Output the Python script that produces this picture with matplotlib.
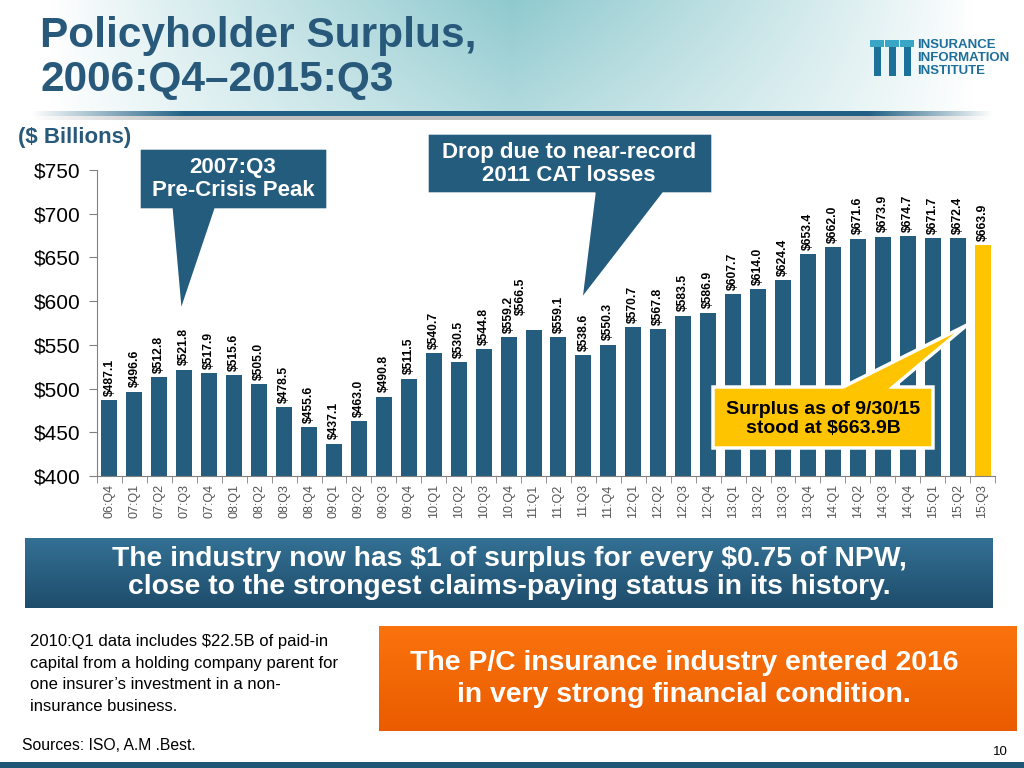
import numpy as np
import matplotlib
matplotlib.use("Agg")
import matplotlib.pyplot as plt
from matplotlib.patches import Polygon, Rectangle
from matplotlib.ticker import FixedLocator

plt.rcParams['font.family'] = ['Liberation Sans', 'DejaVu Sans']

# ── data ────────────────────────────────────────────────────────────────────
quarters = ["06:Q4", "07:Q1", "07:Q2", "07:Q3", "07:Q4", "08:Q1", "08:Q2",
            "08:Q3", "08:Q4", "09:Q1", "09:Q2", "09:Q3", "09:Q4", "10:Q1",
            "10:Q2", "10:Q3", "10:Q4", "11:Q1", "11:Q2", "11:Q3", "11:Q4",
            "12:Q1", "12:Q2", "12:Q3", "12:Q4", "13:Q1", "13:Q2", "13:Q3",
            "13:Q4", "14:Q1", "14:Q2", "14:Q3", "14:Q4", "15:Q1", "15:Q2",
            "15:Q3"]
surplus = [487.1, 496.6, 512.8, 521.8, 517.9, 515.6, 505.0, 478.5, 455.6,
           437.1, 463.0, 490.8, 511.5, 540.7, 530.5, 544.8, 559.2, 566.5,
           559.1, 538.6, 550.3, 570.7, 567.8, 583.5, 586.9, 607.7, 614.0,
           624.4, 653.4, 662.0, 671.6, 673.9, 674.7, 671.7, 672.4, 663.9]
yticks = [400, 450, 500, 550, 600, 650, 700, 750]

BLUE = "#245d7d"
YELLOW = "#ffc400"
TITLE = "#28597a"

fig = plt.figure(figsize=(10.24, 7.68), dpi=100)

# ── header / decoration layer (pixel coords) ────────────────────────────────
bg = fig.add_axes([0, 0, 1, 1], zorder=0)
bg.set_xlim(0, 1024)
bg.set_ylim(768, 0)
bg.axis("off")

xs = np.linspace(0, 1, 512)
prof = np.clip(1 - np.abs(xs - 0.5) / 0.45, 0, 1) ** 0.9
ys = np.linspace(0, 1, 60)
vprof = 1 - 0.3 * ys
inten = np.outer(vprof, prof)
teal = np.array([0.56, 0.79, 0.81])
img = 1 - inten[..., None] * (1 - teal)
bg.imshow(img, extent=(0, 1024, 112, 0), aspect="auto", zorder=0)

# underline with faded ends + shadow
lprof = np.clip(np.minimum((xs - 0.03) / 0.15, (0.97 - xs) / 0.12), 0, 1)
line_col = np.array([0.13, 0.38, 0.52])
limg = 1 - lprof[None, :, None] * (1 - line_col)
bg.imshow(limg, extent=(0, 1024, 116, 111), aspect="auto", zorder=1)
simg = 1 - (lprof * 0.25)[None, :, None] * np.ones(3)
bg.imshow(simg, extent=(0, 1024, 120, 116), aspect="auto", zorder=1)

bg.text(40, 36, "Policyholder Surplus,", fontsize=30.5,
        fontweight="bold", color=TITLE, va="center", ha="left")
bg.text(40, 80, "2006:Q4\u20132015:Q3", fontsize=30.5,
        fontweight="bold", color=TITLE, va="center", ha="left")

# logo
for i in range(3):
    x0 = 870 + i * 15
    bg.add_patch(Rectangle((x0, 40), 14, 7, color="#3aa6c6", lw=0))
    bg.add_patch(Rectangle((x0 + 4, 47), 7, 29, color="#1b7199", lw=0))
for j, word in enumerate(["INSURANCE", "INFORMATION", "INSTITUTE"]):
    bg.text(917, 45 + j * 13, word, fontsize=9.5, fontweight="bold",
            color="#1d6f9a", va="center", ha="left")

bg.text(18, 137, "(\\$ Billions)", fontsize=16, fontweight="bold",
        color=TITLE, va="center", ha="left")

# banner
bimg = np.linspace(0, 1, 50)
bcol = np.array([0.20, 0.44, 0.58])[None, :] * (1 - bimg[:, None]) \
    + np.array([0.12, 0.30, 0.42])[None, :] * bimg[:, None]
bg.imshow(bcol[:, None, :], extent=(25, 993, 608, 538), aspect="auto",
          zorder=1)
bg.text(509, 573, "The industry now has \\$1 of surplus for every \\$0.75 of NPW,\n"
        "close to the strongest claims-paying status in its history.",
        fontsize=20.3, fontweight="bold", color="white",
        ha="center", va="center", linespacing=1.1, zorder=2)

# footnote
bg.text(30, 674, "2010:Q1 data includes \\$22.5B of paid-in\n"
        "capital from a holding company parent for\n"
        "one insurer\u2019s investment in a non-\ninsurance business.",
        fontsize=12, color="black", ha="left", va="center",
        linespacing=1.55)

# orange box
oimg = np.linspace(0, 1, 50)
ocol = np.array([0.98, 0.45, 0.05])[None, :] * (1 - oimg[:, None]) \
    + np.array([0.92, 0.36, 0.0])[None, :] * oimg[:, None]
bg.imshow(ocol[:, None, :], extent=(379, 1017, 731, 626), aspect="auto",
          zorder=1)
bg.text(684, 679, "The P/C insurance industry entered 2016\n"
        "in very strong financial condition.",
        fontsize=20.4, fontweight="bold", color="white",
        ha="center", va="center", linespacing=1.35, zorder=2)

bg.text(22, 745, "Sources: ISO, A.M .Best.", fontsize=11.3,
        color="black", ha="left", va="center")
bg.text(1000, 752, "10", fontsize=9.5, color="black",
        ha="center", va="center")
bg.add_patch(Rectangle((0, 762), 1024, 6, color="#1f5877", lw=0))

# ── chart ───────────────────────────────────────────────────────────────────
ax = fig.add_axes([97 / 1024, 1 - 476 / 768, 898 / 1024, 306 / 768],
                  zorder=1)
ax.patch.set_alpha(0)
x = np.arange(len(quarters))
colors = [BLUE] * (len(quarters) - 1) + [YELLOW]
bars = ax.bar(x, surplus, width=0.64, color=colors, zorder=2)

ax.set_ylim(400, 750)
ax.set_xlim(-0.5, len(quarters) - 0.5)
ax.set_yticks(yticks)
ax.set_yticklabels([f"${v}" for v in yticks], fontsize=15)
ax.set_xticks(x)
ax.set_xticklabels(quarters, rotation=90, fontsize=9, color="#555555")
ax.xaxis.set_minor_locator(FixedLocator(np.arange(-0.5, len(quarters), 1)))
ax.tick_params(axis="x", which="major", length=0, pad=6)
ax.tick_params(axis="x", which="minor", length=5, color="#808080")
ax.tick_params(axis="y", length=6, color="#808080", pad=6)
for s in ["top", "right"]:
    ax.spines[s].set_visible(False)
for s in ["left", "bottom"]:
    ax.spines[s].set_color("#808080")

for i, v in enumerate(surplus):
    dx, dy = (0, 3)
    if quarters[i] == "11:Q1":
        dx, dy = (-9, 11)
    ax.annotate(f"${v:.1f}", (x[i], v), xytext=(dx, dy),
                textcoords="offset points", rotation=90, ha="center",
                va="bottom", fontsize=8.7, fontweight="bold", color="black",
                zorder=3)

# ── callouts (pixel coords, on top) ─────────────────────────────────────────
ov = fig.add_axes([0, 0, 1, 1], zorder=3)
ov.set_xlim(0, 1024)
ov.set_ylim(768, 0)
ov.axis("off")
ov.patch.set_alpha(0)

c1 = [(140, 149), (327, 149), (327, 209), (215, 209), (181, 310),
      (172, 209), (140, 209)]
ov.add_patch(Polygon(c1, closed=True, fc="#245c7e", ec="white", lw=1))
ov.text(233, 179, "2007:Q3\nPre-Crisis Peak", fontsize=16, fontweight="bold",
        color="white", ha="center", va="center", linespacing=1.1)

c2 = [(428, 134), (712, 134), (712, 193), (663, 193), (582, 298),
      (595, 193), (428, 193)]
ov.add_patch(Polygon(c2, closed=True, fc="#245c7e", ec="white", lw=1))
ov.text(569, 164, "Drop due to near-record\n2011 CAT losses", fontsize=16,
        fontweight="bold", color="white", ha="center", va="center",
        linespacing=1.1)

c3 = [(713, 387), (843, 387), (967, 325), (893, 387), (933, 387),
      (933, 448), (713, 448)]
ov.add_patch(Polygon(c3, closed=True, fc=YELLOW, ec="white", lw=2.5))
ov.text(823, 419, "Surplus as of 9/30/15\nstood at $663.9B", fontsize=14,
        fontweight="bold", color="black", ha="center", va="center",
        linespacing=1.15)

fig.savefig("out.png", dpi=100)
